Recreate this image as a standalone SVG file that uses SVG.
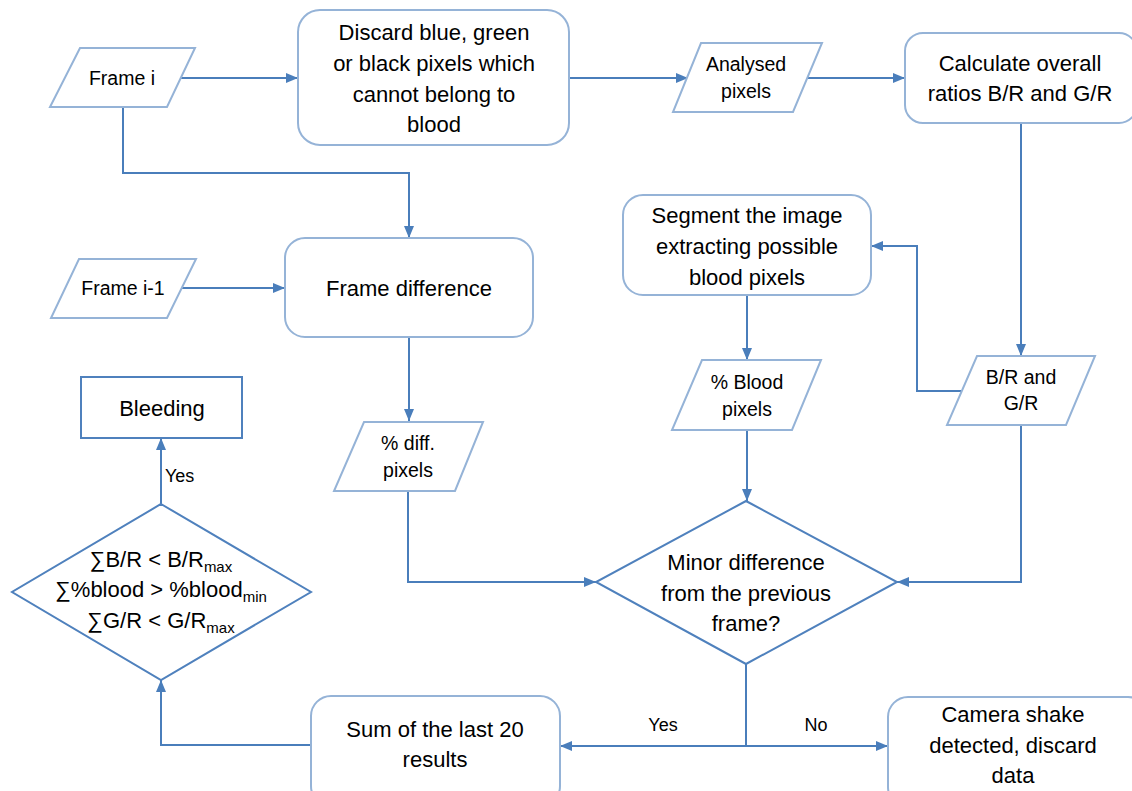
<svg xmlns="http://www.w3.org/2000/svg" width="1132" height="791" viewBox="0 0 1132 791">
<style>
text{font-family:"Liberation Sans",Arial,sans-serif;fill:#000;text-anchor:middle}
.big{font-size:22px}
.sm{font-size:19.5px}
.lab{font-size:18px}
.dia{font-size:22px}
.sub{font-size:15px}
.box{fill:#fff;stroke:#95b3d7;stroke-width:2}
.dk{fill:#fff;stroke:#4f81bd;stroke-width:2}
.con{fill:none;stroke:#4a7ebb;stroke-width:2}
</style>
<defs>
<marker id="ah" markerUnits="userSpaceOnUse" markerWidth="12" markerHeight="10" refX="12" refY="5" orient="auto">
<path d="M0,0 L12,5 L0,10 z" fill="#4a7ebb"/>
</marker>
</defs>
<g id="connectors">
<path class="con" marker-end="url(#ah)" d="M181,78 H298"/>
<path class="con" marker-end="url(#ah)" d="M569,78 H688"/>
<path class="con" marker-end="url(#ah)" d="M807,78 H905"/>
<path class="con" marker-end="url(#ah)" d="M123,107 V173 H409 V238"/>
<path class="con" marker-end="url(#ah)" d="M181,288 H285"/>
<path class="con" marker-end="url(#ah)" d="M409,337 V421"/>
<path class="con" marker-end="url(#ah)" d="M408,491 V582 H596"/>
<path class="con" marker-end="url(#ah)" d="M1021,123 V356"/>
<path class="con" marker-end="url(#ah)" d="M962,391 H917 V246 H871"/>
<path class="con" marker-end="url(#ah)" d="M747,295 V360"/>
<path class="con" marker-end="url(#ah)" d="M747,430 V501"/>
<path class="con" marker-end="url(#ah)" d="M1021,425 V582 H897"/>
<path class="con" marker-end="url(#ah)" d="M746,664 V746 H560"/>
<path class="con" marker-end="url(#ah)" d="M746,746 H888"/>
<path class="con" marker-end="url(#ah)" d="M311,745 H161 V680"/>
<path class="con" marker-end="url(#ah)" d="M161,504 V438"/>
<text class="lab" x="165" y="482" style="text-anchor:start">Yes</text>
<text class="lab" x="663" y="731">Yes</text>
<text class="lab" x="816" y="731">No</text>
</g>
<g id="frame-i">
<polygon class="box" points="80,48 195,48 167,107 50,107"/>
<text class="sm" x="122" y="85">Frame i</text>
</g>
<g id="discard">
<rect class="box" x="298" y="10" width="271" height="135" rx="22"/>
<text class="big" x="434" y="40">Discard blue, green</text>
<text class="big" x="434" y="71">or black pixels which</text>
<text class="big" x="434" y="102">cannot belong to</text>
<text class="big" x="434" y="132">blood</text>
</g>
<g id="analysed">
<polygon class="box" points="701,43 822,43 793,112 673,112"/>
<text class="sm" x="746" y="71">Analysed</text>
<text class="sm" x="746" y="98">pixels</text>
</g>
<g id="calc">
<rect class="box" x="905" y="33" width="232" height="90" rx="18"/>
<text class="big" x="1020" y="71">Calculate overall</text>
<text class="big" x="1020" y="101">ratios B/R and G/R</text>
</g>
<g id="frame-i-1">
<polygon class="box" points="79,259 196,259 167,318 51,318"/>
<text class="sm" x="123" y="295">Frame i-1</text>
</g>
<g id="frame-diff">
<rect class="box" x="285" y="238" width="248" height="99" rx="20"/>
<text class="big" x="409" y="296">Frame difference</text>
</g>
<g id="segment">
<rect class="box" x="623" y="195" width="248" height="100" rx="20"/>
<text class="big" x="747" y="223">Segment the image</text>
<text class="big" x="747" y="254">extracting possible</text>
<text class="big" x="747" y="285">blood pixels</text>
</g>
<g id="blood-pixels">
<polygon class="box" points="702,360 821,360 792,430 672,430"/>
<text class="sm" x="747" y="389">% Blood</text>
<text class="sm" x="747" y="416">pixels</text>
</g>
<g id="br-gr">
<polygon class="box" points="977,356 1095,356 1066,425 947,425"/>
<text class="sm" x="1021" y="384">B/R and</text>
<text class="sm" x="1021" y="410">G/R</text>
</g>
<g id="diff-pixels">
<polygon class="box" points="364,422 483,422 455,491 334,491"/>
<text class="sm" x="408" y="450">% diff.</text>
<text class="sm" x="408" y="477">pixels</text>
</g>
<g id="bleeding">
<rect class="dk" x="81" y="377" width="161" height="61"/>
<text class="big" x="162" y="416">Bleeding</text>
</g>
<g id="criteria">
<polygon class="dk" points="161,504 311,592 161,680 12,592"/>
<text class="dia" x="161" y="567">∑B/R &lt; B/R<tspan class="sub" dy="5">max</tspan></text>
<text class="dia" x="161" y="597">∑%blood &gt; %blood<tspan class="sub" dy="5">min</tspan></text>
<text class="dia" x="161" y="628">∑G/R &lt; G/R<tspan class="sub" dy="5">max</tspan></text>
</g>
<g id="minor-diff">
<polygon class="dk" points="746,501 897,582 746,664 596,582"/>
<text class="big" x="746" y="570">Minor difference</text>
<text class="big" x="746" y="601">from the previous</text>
<text class="big" x="746" y="631">frame?</text>
</g>
<g id="sum">
<rect class="box" x="311" y="696" width="249" height="110" rx="20"/>
<text class="big" x="435" y="737">Sum of the last 20</text>
<text class="big" x="435" y="767">results</text>
</g>
<g id="camera">
<rect class="box" x="888" y="697" width="260" height="110" rx="20"/>
<text class="big" x="1013" y="722">Camera shake</text>
<text class="big" x="1013" y="753">detected, discard</text>
<text class="big" x="1013" y="783">data</text>
</g>
</svg>
